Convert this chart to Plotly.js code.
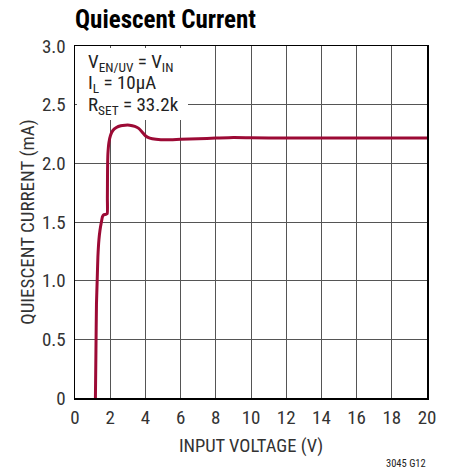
<!DOCTYPE html>
<html>
<head>
<meta charset="utf-8">
<script src="https://cdn.plot.ly/plotly-3.0.1.min.js"></script>
<style>html,body{margin:0;padding:0;background:#fff;}#chart{width:451px;height:471px;}</style>
</head>
<body>
<div id="chart"></div>
<script>
var inputVoltage = [1.16, 1.19, 1.22, 1.26, 1.30, 1.36, 1.42, 1.50, 1.56, 1.62, 1.75, 1.83, 1.84, 1.85, 1.87, 1.93, 2.02, 2.15, 2.35, 2.6, 2.85, 3.1, 3.4, 3.6, 3.8, 4.0, 4.25, 4.6, 5.2, 6.0, 7.0, 8.0, 9.0, 10, 12, 14, 16, 18, 20];
var quiescentCurrent = [0, 0.4, 0.8, 1.0, 1.2, 1.35, 1.43, 1.50, 1.545, 1.56, 1.565, 1.57, 1.7, 1.95, 2.08, 2.18, 2.24, 2.28, 2.305, 2.32, 2.325, 2.325, 2.315, 2.30, 2.27, 2.235, 2.215, 2.205, 2.2, 2.205, 2.21, 2.215, 2.22, 2.218, 2.215, 2.215, 2.215, 2.215, 2.215];
var xTicks = [0, 2, 4, 6, 8, 10, 12, 14, 16, 18, 20];
var yTicks = [0, 0.5, 1.0, 1.5, 2.0, 2.5, 3.0];
var yTickText = ['0', '0.5', '1.0', '1.5', '2.0', '2.5', '3.0'];
var conditionLines = ['V<sub>EN/UV</sub> = V<sub>IN</sub>', 'I<sub>L</sub> = 10μA', 'R<sub>SET</sub> = 33.2k'];

var FONT = '"Liberation Sans Narrow", "Roboto Condensed", "Arial Narrow", "Liberation Sans", sans-serif';

var trace = {
  x: inputVoltage,
  y: quiescentCurrent,
  mode: 'lines',
  line: {color: '#9c0a35', width: 3, shape: 'spline', smoothing: 0.5},
  hoverinfo: 'skip'
};

var annotations = [{
  text: '&nbsp;', xref: 'paper', yref: 'paper', x: 0, y: 1, xshift: 1.5, yshift: -1.5,
  xanchor: 'left', yanchor: 'top', showarrow: false, width: 111, height: 72,
  bgcolor: '#fff', borderpad: 0, borderwidth: 0, font: {size: 10}
}];
var lineY = [0.952, 0.893, 0.830];
conditionLines.forEach(function(t, i) {
  annotations.push({
    text: t, xref: 'paper', yref: 'paper', x: 0.03, y: lineY[i],
    xanchor: 'left', yanchor: 'middle', showarrow: false,
    font: {family: FONT, size: 19, color: '#222'}
  });
});
annotations.push({
  text: '3045 G12', xref: 'paper', yref: 'paper', x: 1.003, y: -0.185,
  xanchor: 'right', yanchor: 'middle', showarrow: false,
  font: {family: FONT, size: 10.5, color: '#222'}
});

var layout = {
  width: 451, height: 471,
  margin: {l: 75, r: 24, t: 46, b: 73},
  paper_bgcolor: '#fff', plot_bgcolor: '#fff',
  showlegend: false,
  title: {text: '<b>Quiescent Current</b>', x: 75/451, xanchor: 'left', y: 0.96, yanchor: 'middle',
          font: {family: FONT, size: 25, color: '#000'}},
  xaxis: {
    range: [0, 20], tickvals: xTicks, ticktext: xTicks.map(String),
    showgrid: true, gridcolor: '#555', gridwidth: 1,
    showline: true, linecolor: '#000', linewidth: 1.5, mirror: true,
    ticks: '', zeroline: false, fixedrange: true, ticklabelstandoff: 2,
    tickfont: {family: FONT, size: 19, color: '#333'},
    title: {text: 'INPUT VOLTAGE (V)', font: {family: FONT, size: 18.5, color: '#333'}, standoff: 11}
  },
  yaxis: {
    range: [0, 3], tickvals: yTicks, ticktext: yTickText,
    showgrid: true, gridcolor: '#555', gridwidth: 1,
    showline: true, linecolor: '#000', linewidth: 1.5, mirror: true,
    ticks: '', zeroline: false, fixedrange: true, ticklabelstandoff: 4,
    tickfont: {family: FONT, size: 19, color: '#333'},
    title: {text: 'QUIESCENT CURRENT (mA)', font: {family: FONT, size: 19, color: '#333'}, standoff: 2}
  },
  annotations: annotations
};

Plotly.newPlot('chart', [trace], layout, {displayModeBar: false, staticPlot: true});
</script>
</body>
</html>
